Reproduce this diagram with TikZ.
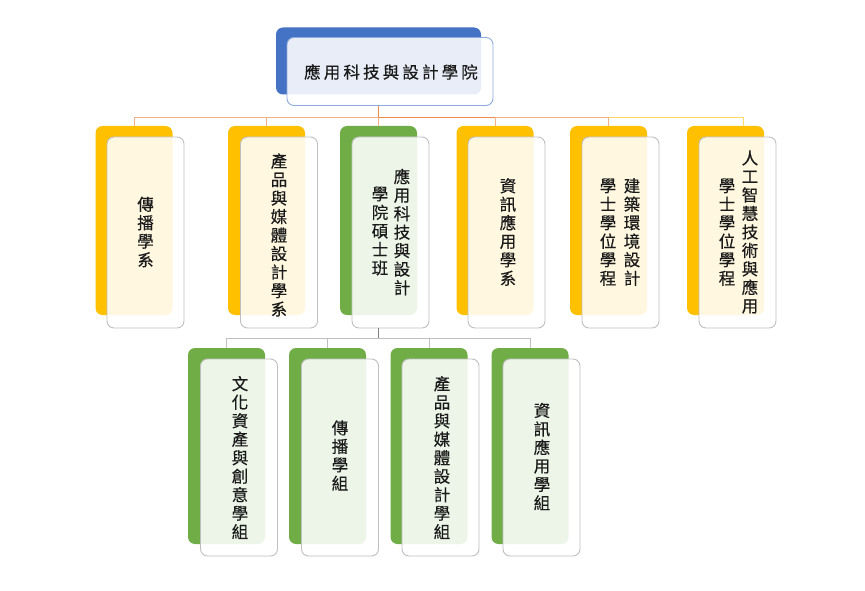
\documentclass[tikz,border=0pt]{standalone}
\usepackage{fontspec}
\newfontfamily\cjk[FakeBold=0.4]{Noto Sans CJK TC}
\newfontfamily\cjkspaced[LetterSpace=19,FakeBold=0.4]{Noto Sans CJK TC}
\definecolor{cblue}{HTML}{4472C4}
\definecolor{cyellow}{HTML}{FFC000}
\definecolor{cgreen}{HTML}{70AD47}
\definecolor{fblue}{HTML}{8FAADC}
\definecolor{fgray}{HTML}{BFBFBF}
\definecolor{lorange}{HTML}{F4B183}
\definecolor{dorange}{HTML}{F08A4B}
\definecolor{lyellow}{HTML}{FFD966}
\definecolor{lgray}{HTML}{BFBFBF}
\definecolor{dgray}{HTML}{7F7F7F}
\definecolor{txt}{HTML}{1A1A1A}
\begin{document}
\begin{tikzpicture}[x=1pt,y=-1pt,
  back/.style={rounded corners=7pt, inner sep=0pt, minimum width=77pt, minimum height=189pt},
  backtwo/.style={back, minimum height=196pt},
  front/.style={rounded corners=7pt, inner sep=0pt, draw=fgray, line width=0.9pt, fill=white, fill opacity=0.88, minimum width=77pt, minimum height=191pt},
  fronttwo/.style={front, minimum height=197pt},
  vtext/.style={font=\cjk\fontsize{16.5}{18.5}\selectfont, text=txt, align=center, inner sep=0pt},
  conn/.style={line width=0.9pt}
]
\useasboundingbox (0,0) rectangle (865,591);

% top
\node[rounded corners=7pt, fill=cblue, inner sep=0pt, minimum width=205pt, minimum height=67pt] (topb) at (378.5,61) {};
\node[rounded corners=7pt, draw=fblue, line width=0.9pt, fill=white, fill opacity=0.88, inner sep=0pt, minimum width=206pt, minimum height=68pt] (topf) at (390,71.5) {};
\node[font=\cjkspaced\fontsize{16.5}{18.5}\selectfont, text=txt, inner sep=0pt] (toptxt) at (391,72) {應用科技與設計學院};

% level 1 back boxes
\node[back, fill=cyellow] (b1) at (134,220.5) {};
\node[back, fill=cyellow] (b2) at (266.5,220.5) {};
\node[back, fill=cgreen] (b3) at (378.5,220.5) {};
\node[back, fill=cyellow] (b4) at (495,220.5) {};
\node[back, fill=cyellow] (b5) at (608.5,220.5) {};
\node[back, fill=cyellow] (b6) at (725.5,220.5) {};
% level 1 front boxes
\node[front] (f1) at (145.5,232.5) {};
\node[front] (f2) at (279,232.5) {};
\node[front] (f3) at (390.5,232.5) {};
\node[front] (f4) at (506.5,232.5) {};
\node[front] (f5) at (620.5,232.5) {};
\node[front] (f6) at (737.5,232.5) {};

% level 1 texts
\node[vtext] (t1) at (145.5,232) {傳\\播\\學\\系};
\node[vtext] (t2) at (279,235) {產\\品\\與\\媒\\體\\設\\計\\學\\系};
\node[vtext] (t3a) at (402,232) {應\\用\\科\\技\\與\\設\\計};
\node[vtext] (t3b) at (380,231) {學\\院\\碩\\士\\班};
\node[vtext] (t4) at (508,232) {資\\訊\\應\\用\\學\\系};
\node[vtext] (t5a) at (632,232) {建\\築\\環\\境\\設\\計};
\node[vtext] (t5b) at (608,232) {學\\士\\學\\位\\學\\程};
\node[vtext] (t6a) at (750,232) {人\\工\\智\\慧\\技\\術\\與\\應\\用};
\node[vtext] (t6b) at (727,232) {學\\士\\學\\位\\學\\程};

% level 2 back boxes
\node[backtwo, fill=cgreen] (g1) at (226.5,446) {};
\node[backtwo, fill=cgreen] (g2) at (327.5,446) {};
\node[backtwo, fill=cgreen] (g3) at (429,446) {};
\node[backtwo, fill=cgreen] (g4) at (530,446) {};
% level 2 front boxes
\node[fronttwo] (h1) at (239,457.5) {};
\node[fronttwo] (h2) at (340,457.5) {};
\node[fronttwo] (h3) at (440.5,457.5) {};
\node[fronttwo] (h4) at (541.5,457.5) {};

% level 2 texts
\node[vtext] (u1) at (240,457.5) {文\\化\\資\\產\\與\\創\\意\\學\\組};
\node[vtext] (u2) at (340,455.5) {傳\\播\\學\\組};
\node[vtext] (u3) at (442,457.5) {產\\品\\與\\媒\\體\\設\\計\\學\\組};
\node[vtext] (u4) at (542,456.5) {資\\訊\\應\\用\\學\\組};

% level 1 connectors
\coordinate (j0) at (378.5,117);
\coordinate (j1) at (134,117);
\coordinate (j2) at (266.5,117);
\coordinate (j4) at (495,117);
\coordinate (j5) at (608.5,117);
\coordinate (j6) at (743,117);
\coordinate (d6) at (743,126);
\draw[conn, dorange] (topb.center |- topf.south) -- (j0);
\draw[conn, lorange] (j0) -- (j1) -- (b1.north);
\draw[conn, lorange] (j2) -- (b2.north);
\draw[conn, lorange] (j0) -- (b3.north);
\draw[conn, dorange] (j0) -- (j4);
\draw[conn, lorange] (j4) -- (b4.north);
\draw[conn, lorange] (j4) -- (j5) -- (b5.north);
\draw[conn, lyellow] (j5) -- (j6) -- (d6);

% level 2 connectors
\coordinate (k0) at (378.5,338);
\coordinate (k1) at (226.5,338);
\coordinate (k2) at (327.5,338);
\coordinate (k3) at (429,338);
\coordinate (k4) at (530,338);
\draw[conn, dgray] (b3.center |- f3.south) -- (k0);
\draw[conn, lgray] (k1) -- (k4);
\draw[conn, lgray] (k1) -- (g1.north);
\draw[conn, lgray] (k2) -- (g2.north);
\draw[conn, lgray] (k3) -- (g3.north);
\draw[conn, lgray] (k4) -- (g4.north);
\end{tikzpicture}
\end{document}
